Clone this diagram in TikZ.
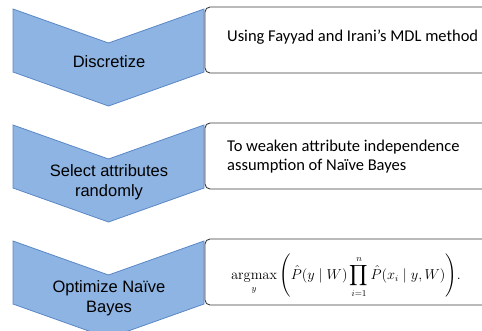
\documentclass[tikz,border=0pt]{standalone}
\usepackage{amsmath}
\usepackage[no-math]{fontspec}
\setmainfont{Liberation Sans}
\newfontfamily\calibrifont{Carlito}
\definecolor{chevfill}{RGB}{142,180,227}
\definecolor{chevline}{RGB}{90,135,198}
\definecolor{boxline}{RGB}{60,60,60}
\begin{document}
\begin{tikzpicture}[x=1pt,y=-1pt,
  chev/.style={fill=chevfill,draw=chevline,line width=0.8pt,line join=miter},
  notebox/.style={draw=boxline,line width=0.9pt,rounded corners=5pt,fill=white},
  chevtext/.style={font=\fontsize{16.5}{20}\selectfont,align=center,inner sep=0pt},
  boxtext/.style={font=\calibrifont\fontsize{16.5}{18.5}\selectfont,align=left,anchor=north west,inner sep=0pt}]
\useasboundingbox (0,0) rectangle (482,330);
\clip (0,0) rectangle (482,330);
\foreach \t/\n in {9/a,125/b,241/c}{
  \path[chev] (13,\t) -- (108.5,\t+34) -- (204,\t) -- (204,\t+63) -- (108.5,\t+97) -- (13,\t+63) -- cycle;
}
\draw[notebox] (205,7) rectangle (500,73);
\draw[notebox] (205,123) rectangle (500,189);
\draw[notebox] (205,239) rectangle (500,305);
\node[chevtext] (t1) at (109,62) {Discretize};
\node[chevtext] (t2) at (109,182) {Select attributes\\randomly};
\node[chevtext] (t3) at (109,298) {Optimize Naïve\\Bayes};
\node[boxtext] (b1) at (227,30) {Using Fayyad and Irani’s MDL method};
\node[boxtext] (b2) at (227,140) {To weaken attribute independence\\assumption of Naïve Bayes};
\node[anchor=west,inner sep=0pt,font=\fontsize{13.5}{16}\selectfont] (b3) at (231,276)
  {$\displaystyle \operatorname*{argmax}_{y}\left(\hat{P}(y\mid W)\prod_{i=1}^{n}\hat{P}(x_i\mid y,W)\right)\!.$};
\end{tikzpicture}
\end{document}
